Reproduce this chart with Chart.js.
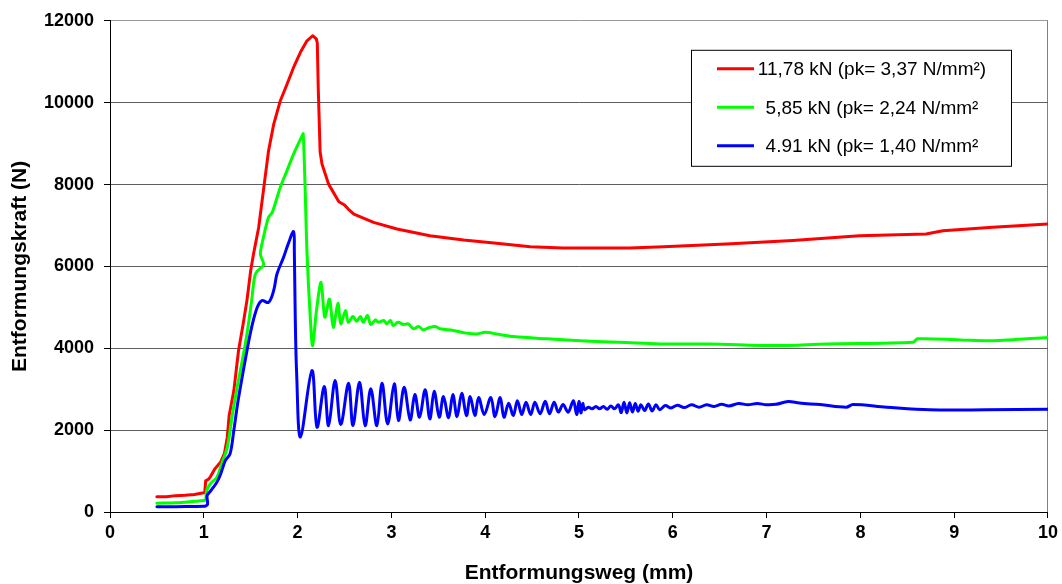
<!DOCTYPE html>
<html>
<head>
<meta charset="utf-8">
<script src="https://cdn.jsdelivr.net/npm/chart.js@4/dist/chart.umd.min.js"></script>
<style>
  html, body { margin: 0; padding: 0; background: #fff; }
  canvas { display: block; }
</style>
</head>
<body>
<canvas id="chart" width="1062" height="584"></canvas>
<script>
// Entformungskraft über Entformungsweg für drei Versuche
const FONT = '"Liberation Sans", Arial, sans-serif';

const seriesLabels = [
  '11,78 kN (pk= 3,37 N/mm²)',
  '5,85 kN (pk= 2,24 N/mm²',
  '4.91 kN (pk= 1,40 N/mm²'
];
const seriesColors = ['#ff0000', '#00ff00', '#0000ff'];

const xTickValues = [0, 1, 2, 3, 4, 5, 6, 7, 8, 9, 10];
const yTickValues = [0, 2000, 4000, 6000, 8000, 10000, 12000];

// Versuch 1 (11,78 kN)
const redWeg = [0.50, 0.60, 0.70, 0.80, 0.90, 1.00, 1.01, 1.02, 1.05, 1.07, 1.12, 1.18, 1.22, 1.25, 1.27, 1.32, 1.37, 1.42, 1.46, 1.50,
  1.53, 1.585, 1.64, 1.69, 1.745, 1.815, 1.887, 1.957, 2.03, 2.10, 2.16, 2.20, 2.21, 2.22, 2.24, 2.26, 2.33, 2.44, 2.50, 2.54,
  2.60, 2.81, 3.06, 3.41, 3.77, 4.12, 4.48, 4.83, 5.19, 5.54, 5.90, 6.57, 7.28, 7.99, 8.70, 8.88, 9.41, 10.0];
const redKraft = [370, 375, 400, 410, 430, 470, 480, 760, 800, 860, 1060, 1220, 1430, 1820, 2350, 2960, 3940, 4600, 5170, 5900,
  6300, 6950, 7930, 8820, 9470, 10040, 10450, 10860, 11230, 11510, 11635, 11560, 11450, 10370, 8800, 8500, 8010, 7580, 7500, 7400,
  7280, 7075, 6915, 6750, 6645, 6565, 6480, 6450, 6450, 6450, 6480, 6545, 6630, 6750, 6790, 6870, 6955, 7035];

// Versuch 2 (5,85 kN)
const greenWeg = [0.50, 0.70, 0.90, 1.00, 1.02, 1.03, 1.07, 1.14, 1.19, 1.25, 1.30, 1.355, 1.41, 1.46, 1.51, 1.54, 1.567, 1.638, 1.603, 1.62,
  1.69, 1.73, 1.815, 1.887, 1.957, 2.05, 2.06, 2.08, 2.10, 2.135, 2.16, 2.20, 2.25, 2.29, 2.34, 2.38, 2.43, 2.46, 2.51, 2.54,
  2.59, 2.63, 2.67, 2.70, 2.745, 2.78, 2.83, 2.86, 2.92, 2.95, 2.99, 3.02, 3.07, 3.13, 3.18, 3.235, 3.29, 3.34, 3.395, 3.47,
  3.52, 3.66, 3.80, 3.91, 4.00, 4.12, 4.30, 4.66, 5.01, 5.50, 5.86, 6.39, 7.10, 7.64, 8.56, 8.61, 9.06, 9.41, 10.0];
const greenKraft = [215, 225, 260, 280, 300, 525, 690, 850, 1175, 1580, 2315, 3045, 3700, 4350, 5165, 5730, 5880, 6040, 6300, 6550,
  7200, 7320, 7930, 8340, 8745, 9200, 9240, 7930, 6350, 4755, 4065, 4900, 5610, 4760, 5200, 4510, 5100, 4600, 4920, 4635,
  4775, 4660, 4775, 4635, 4800, 4580, 4695, 4635, 4680, 4595, 4680, 4555, 4635, 4580, 4595, 4475, 4530, 4450, 4500, 4530,
  4475, 4435, 4370, 4350, 4390, 4350, 4285, 4230, 4185, 4140, 4105, 4105, 4065, 4105, 4145, 4230, 4205, 4185, 4265];

// Versuch 3 (4,91 kN)
const blueWeg = [0.50, 0.70, 0.90, 1.00, 1.02, 1.04, 1.035, 1.06, 1.09, 1.14, 1.18, 1.23, 1.28, 1.32, 1.355, 1.39, 1.46, 1.51, 1.57, 1.62,
  1.69, 1.745, 1.78, 1.85, 1.90, 1.957, 1.965, 1.975, 1.99, 2.03, 2.153, 2.207, 2.284, 2.33, 2.40, 2.46, 2.543, 2.59, 2.66, 2.72,
  2.78, 2.845, 2.90, 2.96, 3.03, 3.075, 3.136, 3.20, 3.25, 3.30, 3.36, 3.41, 3.456, 3.51, 3.555, 3.61, 3.655, 3.70, 3.75, 3.80,
  3.84, 3.89, 3.93, 3.99, 4.06, 4.105, 4.16, 4.20, 4.25, 4.30, 4.343, 4.39, 4.435, 4.485, 4.53, 4.585, 4.64, 4.685, 4.735, 4.78,
  4.83, 4.885, 4.94, 4.975, 5.00, 5.02, 5.04, 5.06, 5.10, 5.14, 5.18, 5.22, 5.26, 5.30, 5.34, 5.38, 5.42, 5.45, 5.48, 5.51,
  5.54, 5.57, 5.60, 5.63, 5.66, 5.70, 5.74, 5.78, 5.82, 5.86, 5.92, 5.98, 6.05, 6.12, 6.20, 6.28, 6.36, 6.44, 6.52, 6.60,
  6.70, 6.80, 6.90, 7.00, 7.10, 7.23, 7.35, 7.57, 7.85, 7.92, 8.28, 8.74, 9.34, 10.0];
const blueKraft = [127, 130, 135, 140, 150, 190, 400, 480, 565, 730, 930, 1260, 1420, 1990, 2560, 3045, 3940, 4510, 5000, 5165,
  5120, 5410, 5815, 6220, 6550, 6850, 6400, 4755, 3370, 1830, 3455, 2070, 3065, 2110, 3210, 2135, 3145, 2110, 3170, 2110,
  3010, 2110, 3145, 2150, 3130, 2235, 3045, 2250, 2870, 2315, 2985, 2275, 2950, 2315, 2820, 2300, 2870, 2330, 2900, 2355,
  2820, 2355, 2800, 2380, 2800, 2330, 2800, 2315, 2655, 2355, 2720, 2380, 2680, 2380, 2680, 2400, 2705, 2400, 2680, 2440,
  2625, 2440, 2720, 2380, 2700, 2420, 2650, 2500, 2560, 2520, 2580, 2520, 2580, 2510, 2590, 2520, 2620, 2430, 2680, 2420,
  2670, 2440, 2650, 2460, 2620, 2480, 2640, 2470, 2620, 2500, 2600, 2540, 2610, 2550, 2620, 2560, 2620, 2580, 2630, 2590,
  2650, 2620, 2650, 2620, 2630, 2700, 2660, 2625, 2560, 2625, 2560, 2495, 2495, 2510];

const toPoints = (xs, ys) => xs.map((x, i) => ({ x: x, y: ys[i] }));

// Legende als Kasten innerhalb der Zeichenfläche
const legendBox = {
  id: 'legendBox',
  afterDatasetsDraw(chart) {
    const { ctx, chartArea } = chart;
    const boxX = chartArea.right - 357, boxY = chartArea.top + 29, boxW = 320, boxH = 116;
    ctx.save();
    ctx.fillStyle = '#ffffff';
    ctx.fillRect(boxX, boxY, boxW, boxH);
    ctx.strokeStyle = '#000000';
    ctx.lineWidth = 1;
    ctx.strokeRect(boxX + 0.5, boxY + 0.5, boxW, boxH);
    ctx.font = '19px ' + FONT;
    ctx.textAlign = 'center';
    ctx.textBaseline = 'middle';
    chart.data.datasets.forEach((ds, i) => {
      const cy = boxY + 19 + i * 38.5;
      ctx.strokeStyle = ds.borderColor;
      ctx.lineWidth = 3;
      ctx.beginPath();
      ctx.moveTo(boxX + 26, cy);
      ctx.lineTo(boxX + 63, cy);
      ctx.stroke();
      ctx.fillStyle = '#000';
      ctx.fillText(ds.label, boxX + 181, cy + 1);
    });
    ctx.restore();
  }
};

const lineStyle = (i, tension) => ({
  label: seriesLabels[i],
  borderColor: seriesColors[i],
  backgroundColor: seriesColors[i],
  borderWidth: 3,
  pointRadius: 0,
  fill: false,
  tension: tension,
  borderJoinStyle: 'round',
  borderCapStyle: 'round'
});

new Chart(document.getElementById('chart').getContext('2d'), {
  type: 'line',
  data: {
    datasets: [
      Object.assign({ data: toPoints(redWeg, redKraft), order: 3 }, lineStyle(0, 0)),
      Object.assign({ data: toPoints(greenWeg, greenKraft), order: 2 }, lineStyle(1, 0.3)),
      Object.assign({ data: toPoints(blueWeg, blueKraft), order: 1 }, lineStyle(2, 0.35))
    ]
  },
  options: {
    responsive: false,
    animation: false,
    layout: { padding: { left: 0, top: 20, right: 14, bottom: 0 } },
    plugins: { legend: { display: false }, tooltip: { enabled: false } },
    scales: {
      x: {
        type: 'linear',
        min: 0,
        max: 10,
        afterBuildTicks: s => { s.ticks = xTickValues.map(v => ({ value: v })); },
        afterFit: s => { s.height = 72; },
        ticks: {
          font: { family: FONT, size: 18, weight: 'bold' },
          color: '#000',
          padding: 4,
          maxRotation: 0,
          autoSkip: false,
          callback: v => String(v)
        },
        grid: {
          drawOnChartArea: true,
          color: c => (c.tick && c.tick.value === 10) ? '#808080' : 'rgba(0,0,0,0)',
          tickColor: '#000',
          tickLength: 6,
          lineWidth: 1
        },
        border: { display: true, color: '#000', width: 1 },
        title: {
          display: true,
          text: 'Entformungsweg (mm)',
          color: '#000',
          font: { family: FONT, size: 21, weight: 'bold', lineHeight: 1.0 },
          padding: { top: 0, bottom: 0 }
        }
      },
      y: {
        type: 'linear',
        min: 0,
        max: 12000,
        afterBuildTicks: s => { s.ticks = yTickValues.map(v => ({ value: v })); },
        afterFit: s => { s.width = 110; },
        ticks: {
          font: { family: FONT, size: 18, weight: 'bold' },
          color: '#000',
          padding: 10,
          callback: v => String(v)
        },
        grid: {
          color: c => (c.tick && c.tick.value === 12000) ? '#9a9a9a' : '#5e5e5e',
          tickColor: '#000',
          tickLength: 6,
          lineWidth: 1
        },
        border: { display: true, color: '#000', width: 1 },
        title: {
          display: true,
          text: 'Entformungskraft (N)',
          color: '#000',
          font: { family: FONT, size: 21, weight: 'bold' },
          padding: { top: 8, bottom: 0 }
        }
      }
    }
  },
  plugins: [legendBox]
});
</script>
</body>
</html>
